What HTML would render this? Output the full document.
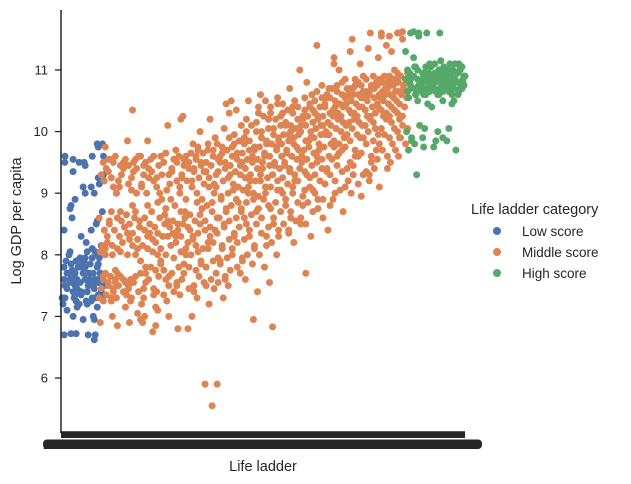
<!DOCTYPE html>
<html><head><meta charset="utf-8"><style>
html,body{margin:0;padding:0;background:#fff}
svg{display:block;font-family:"Liberation Sans","DejaVu Sans",sans-serif}
</style></head><body>
<svg id="chart" width="631" height="484" viewBox="0 0 631 484">
<g id="marks"></g>
<g id="axes"></g>
</svg>
<script>
// y-axis ticks
const yTicks = [6, 7, 8, 9, 10, 11];
// Low score: [rank (0-100 along x categories), log GDP]
const lowPoints = [[0.5,7.3],[1,7.5],[1.5,7.7],[2,7.4],[2.5,7.6],[3,7.3],[3.5,7.8],[4,7.5],[4.5,7.2],[5,7.7],[5.5,7.4],[6,7.9],[6.5,7.5],[7,7.3],[7.5,7.7],[8,7.5],[8.5,7.8],[9,7.4],[9.5,7.6],[10,7.3],
[0.5,7.9],[1,7.2],[1.5,7.45],[2,7.85],[2.5,7.35],[3,7.65],[3.5,7.25],[4,7.95],[4.5,7.6],[5,7.35],[5.5,7.8],[6,7.55],[6.5,7.25],[7,7.85],[7.5,7.45],[8,7.25],[8.5,7.6],[9,7.95],[9.5,7.35],[10,7.7],
[0.5,7.6],[1.5,8.05],[2.5,8.0],[3.5,7.55],[4.5,7.4],[5.5,8.05],[6.5,7.7],[7.5,8.1],[8.5,7.35],[9.5,8.0],[10,8.15],[1,7.7],[3,7.45],[5,7.55],[7,7.6],[9,7.7],[2,7.1],[4,7.15],[6,7.2],[8,7.15],
[1,7.8],[2,7.55],[3,7.9],[4,7.35],[5,7.8],[6,7.4],[7,7.7],[8,7.95],[9,7.55],[10,7.5],[1.5,7.3],[3.5,7.7],[5.5,7.6],[7.5,7.3],[9.5,7.85],[2.5,7.75],[4.5,7.85],[6.5,7.95],[8.5,8.05],
[0.3,6.7],[1.5,6.72],[4,6.72],[6.5,6.7],[7.5,6.62],[9,6.7],[3,7.0],[5,6.95],[7,7.0],[8.5,6.95],[0.5,8.4],[2,8.6],[3,8.8],[5,8.3],[7,8.4],[8,8.55],[9,8.5],[10,8.7],[1.5,8.75],[4,8.9],[6,9.0],[7,9.1],[8.5,9.15],[9.5,9.25],[10.3,9.3],[0.2,9.5],[1.5,9.6],[3,9.55],[4,9.5],[5,9.45],[6,9.5],[7.5,9.6],[8.5,9.75],[9.5,9.8],[10.3,9.8],[2.5,9.35],[4.5,9.1],[6.5,8.2],[8,9.0],[9.8,9.6]];
// Middle score: columns of [rank, [log GDP values]]
const middleCols = [
[10,[7.3,7.45,7.6,7.7,8.05,8.15,8.4,8.6,9.3,9.5,9.75,6.9]],
[11,[7.35,7.5,7.65,8.1,8.3,8.55,9.2,9.4,9.55,7.25,8.0]],
[12,[7.25,7.4,7.55,7.65,8.0,8.2,8.5,8.7,9.1,9.35,9.55,7.0]],
[13,[7.3,7.45,7.6,7.7,8.15,8.4,9.0,9.25,9.5,7.55,8.6]],
[14,[7.3,7.5,7.65,7.75,8.1,8.3,8.55,9.0,9.2,9.45,9.6,6.85]],
[15,[7.4,7.55,8.05,8.2,8.45,9.1,9.3,9.5,7.15,8.7]],
[16,[7.35,7.5,7.6,7.4,8.0,8.25,8.45,8.65,9.15,9.4,9.55,9.85,6.9]],
[17,[7.45,7.6,8.15,8.35,8.5,9.05,9.35,9.45,7.25,8.8]],
[18,[7.3,7.55,7.65,8.1,8.35,8.6,9.0,9.25,9.5,9.55,7.05,10.35]],
[19,[7.4,7.7,8.0,8.25,8.45,9.15,9.4,9.6,6.95,8.7]],
[20,[7.2,7.45,7.7,7.9,8.15,8.4,8.55,9.1,9.3,9.5,9.6,6.9,7.0]],
[21,[7.3,7.55,8.1,8.35,8.6,9.0,9.25,9.45,7.8,8.8]],
[22,[7.35,7.6,7.8,8.05,8.3,8.5,8.7,9.2,9.4,9.55,6.75,9.85]],
[23,[7.45,7.75,8.0,8.25,8.45,9.1,9.35,9.6,7.15,8.85]],
[24,[7.4,7.65,7.9,8.2,8.35,8.6,8.9,9.25,9.45,9.6,6.85,7.1]],
[25,[7.35,7.6,8.1,8.3,8.5,9.0,9.3,9.5,8.75,7.85]],
[26,[7.25,7.5,7.75,8.0,8.3,8.45,8.65,9.05,9.3,9.5,9.65,10.1]],
[27,[7.4,7.65,8.15,8.35,8.55,9.15,9.35,9.55,7.0,8.9]],
[28,[7.5,7.7,7.95,8.2,8.4,8.55,8.8,9.2,9.4,9.55,9.7,6.8]],
[29,[7.55,7.8,8.05,8.3,8.5,9.1,9.25,9.5,9.6,8.7]],
[30,[7.35,7.6,7.85,8.1,8.3,8.5,8.7,9.0,9.3,9.45,9.6,10.2,10.25]],
[31,[7.45,7.7,8.0,8.2,8.4,8.6,9.2,9.4,9.55,8.9]],
[32,[7.0,7.5,7.8,8.0,8.25,8.45,8.65,9.1,9.35,9.5,9.65,9.8,6.8]],
[33,[7.4,7.75,8.05,8.3,8.55,8.85,9.2,9.4,9.55,9.7]],
[34,[7.3,7.65,7.9,8.15,8.35,8.5,8.75,9.0,9.25,9.45,9.6,9.75,10.0]],
[35,[7.5,7.85,8.1,8.4,8.65,8.9,9.15,9.35,9.5,9.65]],
[36,[7.2,7.55,7.8,8.1,8.3,8.55,8.8,9.1,9.35,9.5,9.7,10.2,5.9]],
[37,[7.6,7.9,8.2,8.45,8.7,9.0,9.25,9.45,9.6,9.8]],
[38,[7.45,7.7,7.95,8.2,8.4,8.6,8.85,9.15,9.3,9.55,9.7,9.9,5.9,5.55]],
[39,[7.55,7.85,8.1,8.35,8.6,8.9,9.1,9.35,9.5,9.65,9.8]],
[40,[7.3,7.6,7.9,8.15,8.45,8.7,8.95,9.2,9.4,9.6,9.75,10.05,10.45]],
[41,[7.65,7.95,8.25,8.5,8.75,9.0,9.3,9.5,9.7,9.9]],
[42,[7.5,7.75,8.0,8.3,8.55,8.8,9.05,9.25,9.45,9.6,9.8,10.3,10.5]],
[43,[7.8,8.1,8.35,8.6,8.85,9.15,9.35,9.55,9.75,9.95]],
[44,[7.7,7.9,8.2,8.45,8.7,8.9,9.1,9.3,9.5,9.65,9.85,10.1,10.35]],
[45,[7.95,8.25,8.5,8.75,9.05,9.25,9.45,9.65,9.8,10.0]],
[46,[7.6,8.0,8.3,8.6,8.85,9.0,9.2,9.4,9.55,9.7,9.9,10.2,10.5]],
[47,[8.1,8.4,8.65,8.9,9.1,9.3,9.5,9.7,9.85,10.1]],
[48,[7.4,7.85,8.15,8.5,8.75,9.0,9.2,9.4,9.6,9.75,10.0,10.3,6.95]],
[49,[8.0,8.35,8.7,8.95,9.2,9.4,9.55,9.75,9.9,10.15,10.4]],
[50,[7.8,8.3,8.6,8.9,9.1,9.3,9.5,9.65,9.8,10.0,10.25,10.5,10.6]],
[51,[8.15,8.45,8.75,9.0,9.25,9.45,9.6,9.85,10.05,10.3]],
[52,[7.55,8.2,8.5,8.8,9.1,9.3,9.45,9.6,9.8,9.95,10.2,10.4,6.83]],
[53,[8.3,8.6,8.85,9.05,9.3,9.5,9.7,9.85,10.05,10.2,10.45]],
[54,[8.0,8.4,8.7,9.0,9.2,9.4,9.6,9.75,9.9,10.1,10.3,10.55]],
[55,[8.5,8.8,9.05,9.25,9.45,9.65,9.8,9.95,10.1,10.25,10.45]],
[56,[8.35,8.6,8.9,9.15,9.35,9.5,9.7,9.85,10.0,10.15,10.35,10.7]],
[57,[8.4,8.7,9.0,9.2,9.4,9.6,9.8,9.95,10.1,10.3,10.5]],
[58,[8.2,8.55,8.85,9.1,9.3,9.55,9.7,9.9,10.05,10.2,10.4,10.5]],
[59,[8.6,8.95,9.2,9.4,9.6,9.75,9.95,10.1,10.25,10.4,11.0]],
[60,[7.7,8.5,8.8,9.05,9.3,9.5,9.7,9.85,10.0,10.2,10.35,10.8]],
[61,[8.5,8.85,9.1,9.35,9.55,9.75,9.9,10.1,10.25,10.4,10.55]],
[62,[8.3,8.7,9.0,9.25,9.45,9.65,9.85,10.0,10.15,10.3,10.45,10.6]],
[63,[8.75,9.05,9.3,9.5,9.7,9.9,10.05,10.2,10.35,10.5,10.65]],
[64,[8.6,8.9,9.2,9.4,9.6,9.8,9.95,10.1,10.25,10.4,10.55,11.4]],
[65,[8.9,9.15,9.35,9.55,9.75,9.95,10.1,10.25,10.4,10.55,10.75]],
[66,[8.4,8.8,9.15,9.4,9.6,9.8,10.0,10.15,10.3,10.45,10.6,10.7]],
[67,[9.0,9.3,9.55,9.75,9.95,10.1,10.25,10.4,10.55,10.7,11.1]],
[68,[8.9,9.2,9.45,9.65,9.85,10.05,10.2,10.35,10.5,10.65,11.0,11.2]],
[69,[9.05,9.35,9.6,9.8,10.0,10.15,10.3,10.45,10.6,10.75]],
[70,[8.7,9.1,9.4,9.7,9.9,10.1,10.25,10.4,10.55,10.7,10.8]],
[71,[9.2,9.5,9.75,9.95,10.15,10.3,10.45,10.6,10.7,10.85]],
[72,[9.0,9.3,9.6,9.85,10.05,10.2,10.35,10.5,10.6,10.75,11.3,11.5]],
[73,[9.15,9.45,9.7,9.95,10.15,10.3,10.45,10.6,10.7,10.85]],
[74,[8.95,9.3,9.6,9.9,10.1,10.25,10.4,10.55,10.65,10.8,11.1]],
[75,[9.35,9.65,9.9,10.1,10.25,10.4,10.55,10.65,10.75,10.9]],
[76,[9.2,9.5,9.8,10.0,10.2,10.35,10.5,10.6,10.7,10.85,11.35,11.6]],
[77,[9.3,9.6,9.85,10.05,10.25,10.4,10.55,10.65,10.75,10.9]],
[78,[9.1,9.4,9.7,9.95,10.15,10.3,10.45,10.6,10.7,10.8,11.2]],
[79,[9.55,9.8,10.05,10.25,10.4,10.55,10.65,10.75,10.85,11.55]],
[80,[9.4,9.7,9.95,10.2,10.35,10.5,10.6,10.7,10.8,10.9,11.4,11.6]],
[81,[9.6,9.9,10.15,10.3,10.45,10.6,10.7,10.8,10.9,11.3]],
[82,[9.5,9.8,10.05,10.25,10.4,10.55,10.65,10.75,10.85,11.0,11.55]],
[83,[9.7,10.0,10.2,10.35,10.5,10.65,10.75,10.85,10.95,11.6]],
[84,[9.6,9.9,10.1,10.3,10.45,10.6,10.7,10.8,10.9,11.5,11.6,9.9]],
[85,[9.8,10.05,10.25,10.4,10.55,10.65,10.75,10.85,10.95,11.62]]
];
// High score columns
const highCols = [
[86,[10.55,10.7,10.85,11.0,10.9,9.85,10.0,9.7,11.6,11.3,10.65,10.8]],
[87,[10.6,10.75,10.9,11.05,10.95,9.9,11.62,10.7,10.85]],
[88,[10.65,10.75,10.9,11.05,10.5,10.1,9.8,9.3,11.55,11.2,10.6,10.85]],
[89,[10.6,10.7,10.8,10.95,11.0,10.75,10.65,9.75,11.6]],
[90,[10.6,10.7,10.8,10.95,11.05,10.45,9.9,10.05,11.6,10.75,10.9]],
[91,[10.65,10.75,10.85,10.95,11.05,10.6,10.8,10.7]],
[92,[10.65,10.75,10.85,10.95,11.1,10.4,9.75,9.85,10.7,10.9]],
[93,[10.6,10.7,10.8,10.9,11.0,11.1,10.65,10.85]],
[94,[10.6,10.7,10.8,10.9,11.0,11.15,10.5,10.0,11.6,10.75,10.85]],
[95,[10.65,10.75,10.85,10.95,11.05,10.7,10.9,9.9]],
[96,[10.65,10.8,10.9,11.0,11.1,10.45,9.85,10.05,10.7,10.95]],
[97,[10.6,10.7,10.8,10.9,11.0,11.1,10.75,10.85]],
[98,[10.6,10.7,10.85,10.95,11.1,10.5,9.7,10.8,11.0]],
[99,[10.65,10.75,10.85,10.95,11.05,10.7,10.9]],
[99.5,[10.7,10.8,10.9,11.0,11.05,10.75]]
];
const categories = ["Low score","Middle score","High score"];
const colors = ["#4c72b0","#dd8452","#55a868"];

const NS = "http://www.w3.org/2000/svg";
const xScale = r => 62 + r * 4.03;
const yScale = v => 70 + (11 - v) * 61.6;
const marks = document.getElementById('marks');
const axes = document.getElementById('axes');
function mk(tag, attrs, parent){const e=document.createElementNS(NS,tag);for(const k in attrs)e.setAttribute(k,attrs[k]);parent.appendChild(e);return e;}
function dot(r, v, ci, i){
  const jit = (((i*37)%7) - 3) * 0.25;
  const rr = Math.max(0, Math.min(100, r + jit));
  const c = mk('circle',{cx:xScale(rr),cy:yScale(v),r:3.5,fill:colors[ci]},marks);
  
  
}
let idx=0;
lowPoints.forEach(p=>dot(p[0],p[1],0,idx++));
middleCols.forEach(col=>col[1].forEach(v=>dot(col[0],v,1,idx++)));
highCols.forEach(col=>col[1].forEach(v=>dot(col[0],v,2,idx++)));

// axes
const ink="#262626";
let e;
e=mk('line',{x1:61,y1:10,x2:61,y2:433,stroke:ink,'stroke-width':1.5},axes);


e=mk('line',{x1:60.25,y1:432,x2:465,y2:432,stroke:ink,'stroke-width':1.5},axes);


yTicks.forEach(t=>{
  const y=yScale(t);
  const l=mk('line',{x1:55,y1:y,x2:61,y2:y,stroke:ink,'stroke-width':1.3},axes);
  
  
  const tx=mk('text',{x:48,y:y+4.5,'text-anchor':'end','font-size':13,fill:ink},axes);
  tx.textContent=t;
  
  
});
// dense x ticks (categorical, overlapping)
e=mk('rect',{x:61,y:432,width:404,height:6,fill:ink},axes);


e=mk('text',{x:43,y:449,'font-size':12,fill:ink},axes);
e.textContent='2.375';


e=mk('rect',{x:43,y:439.5,width:439,height:9.5,rx:4,fill:ink},axes);


e=mk('text',{x:263,y:471,'text-anchor':'middle','font-size':14.5,fill:ink},axes);
e.textContent='Life ladder';


e=mk('text',{x:0,y:0,'text-anchor':'middle','font-size':14.5,fill:ink,transform:'translate(21,221) rotate(-90)'},axes);
e.textContent='Log GDP per capita';


// legend
const lg=mk('g',{},axes);


e=mk('text',{x:471,y:214,'font-size':14.5,fill:ink},lg);
e.textContent='Life ladder category';


categories.forEach((c,i)=>{
  const y=231+i*21;
  const ci=mk('circle',{cx:497,cy:y,r:4,fill:colors[i]},lg);
  
  
  const t=mk('text',{x:522,y:y+5,'font-size':13.5,fill:ink},lg);
  t.textContent=c;
  
  
});
</script>
</body></html>
